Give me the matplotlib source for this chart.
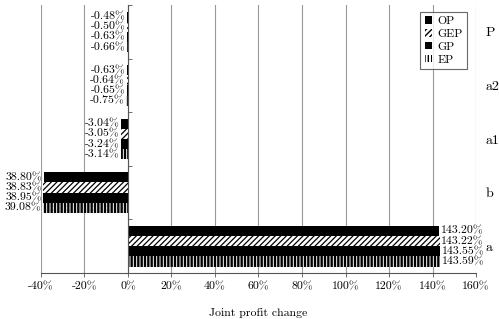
import numpy as np
import matplotlib
matplotlib.use('Agg')
import matplotlib.pyplot as plt

plt.rcParams['font.family'] = ['cmr10', 'DejaVu Serif']
plt.rcParams['axes.unicode_minus'] = False

categories = ['P', 'a2', 'a1', 'b', 'a']
series = ['OP', 'GEP', 'GP', 'EP']

# joint profit change in %, one list per series (categories top to bottom)
op  = [-0.48, -0.63, -3.04, -38.80, 143.20]
gep = [-0.50, -0.64, -3.05, -38.83, 143.22]
gp  = [-0.63, -0.65, -3.24, -38.95, 143.55]
ep  = [-0.66, -0.75, -3.14, -39.08, 143.59]

xticks = [-40, -20, 0, 20, 40, 60, 80, 100, 120, 140, 160]

# categories whose label is printed without the minus sign
unsigned = ['b']


def main():
    fig = plt.figure(figsize=(4.99, 3.19), dpi=100)
    ax = fig.add_axes([0.082, 0.144, 0.872, 0.840])

    vals = [op, gep, gp, ep]
    styles = [dict(color='black'),
              dict(color='white', edgecolor='black', hatch='//////', lw=0),
              dict(color='black'),
              dict(color='white', edgecolor='black', hatch='|||||', lw=0)]
    hatch_lw = [1.0, 0.9, 1.0, 1.7]
    h = 0.19
    y = np.arange(len(categories))
    for i, (s, v, st) in enumerate(zip(series, vals, styles)):
        pos = y - 1.5*h + i*h
        with plt.rc_context({'hatch.linewidth': hatch_lw[i]}):
            ax.barh(pos, v, height=h, label=s, **st)
        for yy, vv, c in zip(pos, v, categories):
            t = abs(vv) if c in unsigned else vv
            if vv >= 0:
                ax.text(vv + 0.7, yy, f'{t:.2f}%', ha='left', va='center', fontsize=8.5)
            else:
                ax.text(vv - 0.7, yy, f'{t:.2f}%', ha='right', va='center', fontsize=8.5)

    ax.set_xlim(-40, 160)
    ax.set_ylim(len(categories) - 0.5, -0.5)
    ax.set_xticks(xticks)
    ax.set_xticklabels([f'{t}%' for t in xticks], fontsize=8.5)
    ax.set_yticks(y)
    ax.set_yticklabels(categories, fontsize=8.5)
    ax.set_yticks(np.arange(len(categories) + 1) - 0.5, minor=True)

    ax.spines['left'].set_position(('data', 0))
    ax.spines['top'].set_visible(False)
    ax.spines['right'].set_visible(False)
    ax.spines['left'].set_linewidth(0.8)
    ax.spines['bottom'].set_linewidth(0.8)
    ax.spines['left'].set_color('#555555')
    ax.spines['bottom'].set_color('#555555')

    ax.tick_params(axis='y', which='major', left=False, right=True,
                   labelleft=False, labelright=True, length=0, pad=7)
    ax.tick_params(axis='y', which='minor', left=True, right=False,
                   direction='in', length=3, width=0.6, color='#555555')
    ax.tick_params(axis='x', direction='out', length=3, width=0.6, color='#555555')

    ax.xaxis.grid(True, color='#999999', lw=0.8)
    ax.set_axisbelow(True)
    ax.set_xlabel('Joint profit change', fontsize=8.5, labelpad=12)

    leg = ax.legend(loc='upper right', bbox_to_anchor=(0.979, 0.974), borderaxespad=0,
                    fontsize=8.5, fancybox=False, edgecolor='#444444',
                    handlelength=0.6, handleheight=0.6, handletextpad=0.5,
                    labelspacing=0.25, borderpad=0.35)
    leg.get_frame().set_linewidth(0.8)

    fig.savefig('out.png', dpi=100)


if __name__ == '__main__':
    main()
